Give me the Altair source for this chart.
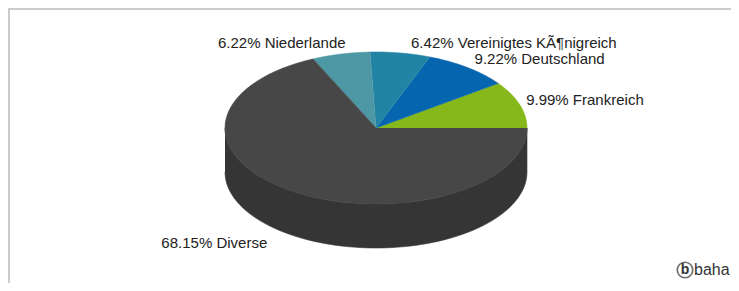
import altair as alt
import pandas as pd

# ---- data ----
labels = ["Frankreich", "Deutschland", "Vereinigtes KÃ¶nigreich", "Niederlande", "Diverse"]
shares = [9.99, 9.22, 6.42, 6.22, 68.15]

# ---- styles ----
top_colors = ["#86B81B", "#0565AE", "#2184A4", "#4E97A5", "#474747"]
side_colors = ["#5F8A12", "#044A80", "#186178", "#386F79", "#353535"]
label_nudge_x = [-15, -7, 7, 10, -15]
label_nudge_y = [1, 6, 9, 7, -9]

# ---- layout (plot pixels) ----
W, H = 723, 275
CX, CY, RX, RY, DEPTH = 368, 120, 151, 76, 44
KX, KY = 1.15, 1.25
N = 72
FONT = "Liberation Sans"
FS = 15

df = pd.DataFrame({
    "label": labels,
    "share": shares,
    "order": list(range(len(labels))),
    "nx": label_nudge_x,
    "ny": label_nudge_y,
})

xs = alt.Scale(domain=[0, W])
ys = alt.Scale(domain=[0, H], reverse=True)
fill_top = alt.Scale(domain=labels, range=top_colors)
fill_side = alt.Scale(domain=labels, range=side_colors)

base = (
    alt.Chart(df)
    .transform_window(cum="sum(share)", sort=[alt.SortField("order")], frame=[None, 0])
    .transform_joinaggregate(total="sum(share)")
    .transform_calculate(
        a0="2*PI*(datum.cum - datum.share)/datum.total",
        a1="2*PI*datum.cum/datum.total",
    )
)

# side wall (front half only)
side = (
    base.transform_calculate(s0="max(datum.a0, PI)", s1="max(datum.a1, PI)")
    .transform_filter("datum.s1 > datum.s0 + 1e-9")
    .transform_calculate(steps=f"sequence(0, {2 * N + 2})")
    .transform_flatten(["steps"], as_=["t"])
    .transform_calculate(istop=f"datum.t <= {N}")
    .transform_calculate(u=f"datum.istop ? datum.t/{N} : (datum.t-{N}-1)/{N}")
    .transform_calculate(
        ang="datum.istop ? datum.s0 + (datum.s1-datum.s0)*datum.u : datum.s1 - (datum.s1-datum.s0)*datum.u",
    )
    .transform_calculate(
        px=f"{CX} + {RX}*cos(datum.ang)",
        py=f"{CY} - {RY}*sin(datum.ang) + (datum.istop ? 0 : {DEPTH})",
    )
    .mark_line(strokeWidth=0.6, interpolate="linear")
    .encode(
        x=alt.X("px:Q", scale=xs, axis=None),
        y=alt.Y("py:Q", scale=ys, axis=None),
        order=alt.Order("t:Q"),
        fill=alt.Fill("label:N", scale=fill_side, legend=None),
        stroke=alt.Stroke("label:N", scale=fill_side, legend=None),
        detail="label:N",
    )
)

# top face
top = (
    base.transform_calculate(steps=f"sequence(-1, {N + 1})")
    .transform_flatten(["steps"], as_=["t"])
    .transform_calculate(ang=f"datum.a0 + (datum.a1-datum.a0)*datum.t/{N}")
    .transform_calculate(
        px=f"datum.t < 0 ? {CX} : {CX} + {RX}*cos(datum.ang)",
        py=f"datum.t < 0 ? {CY} : {CY} - {RY}*sin(datum.ang)",
    )
    .mark_line(strokeWidth=0.6, interpolate="linear")
    .encode(
        x=alt.X("px:Q", scale=xs, axis=None),
        y=alt.Y("py:Q", scale=ys, axis=None),
        order=alt.Order("t:Q"),
        fill=alt.Fill("label:N", scale=fill_top, legend=None),
        stroke=alt.Stroke("label:N", scale=fill_top, legend=None),
        detail="label:N",
    )
)

lab = base.transform_calculate(
    m="(datum.a0 + datum.a1)/2",
).transform_calculate(
    c="cos(datum.m)",
    s="sin(datum.m)",
    txt="format(datum.share, '.2f') + '% ' + datum.label",
).transform_calculate(
    lx=f"{CX} + {RX}*{KX}*datum.c + datum.nx",
    ly=f"{CY} - {RY}*{KY}*datum.s + (datum.s < 0 ? {DEPTH} : 0) + datum.ny",
)

lab_enc = dict(
    x=alt.X("lx:Q", scale=xs, axis=None),
    y=alt.Y("ly:Q", scale=ys, axis=None),
    text="txt:N",
)
labels_r = lab.transform_filter("datum.c >= 0").mark_text(
    align="left", baseline="middle", font=FONT, fontSize=FS, color="#222222"
).encode(**lab_enc)
labels_l = lab.transform_filter("datum.c < 0").mark_text(
    align="right", baseline="middle", font=FONT, fontSize=FS, color="#222222"
).encode(**lab_enc)

one = pd.DataFrame({"k": [0]})
frame_top = alt.Chart(one).mark_rule(color="#cccccc", strokeWidth=2).encode(
    x=alt.value(0), x2=alt.value(W), y=alt.value(1)
)
frame_left = alt.Chart(one).mark_rule(color="#cccccc", strokeWidth=2).encode(
    x=alt.value(1), y=alt.value(0), y2=alt.value(H)
)

logo_circle = alt.Chart(one).mark_point(
    shape="circle", size=240, filled=False, stroke="#333333", strokeWidth=1.7
).encode(x=alt.value(677), y=alt.value(262))
logo_b = alt.Chart(one).mark_text(
    text="b", font=FONT, fontSize=14, fontWeight="bold", color="#333333",
    align="center", baseline="middle", dy=-0.5
).encode(x=alt.value(677), y=alt.value(262))
logo_txt = alt.Chart(one).mark_text(
    text="baha", font=FONT, fontSize=16, color="#333333",
    align="left", baseline="middle"
).encode(x=alt.value(686), y=alt.value(262))

chart = alt.layer(
    side, top, labels_r, labels_l, frame_top, frame_left, logo_circle, logo_b, logo_txt
).resolve_scale(
    fill="independent", stroke="independent"
).properties(
    width=W, height=H, padding=0, autosize=alt.AutoSizeParams(type="none")
).configure_view(stroke=None)

chart.save("out.html", embed_options={"renderer": "svg", "actions": False})
